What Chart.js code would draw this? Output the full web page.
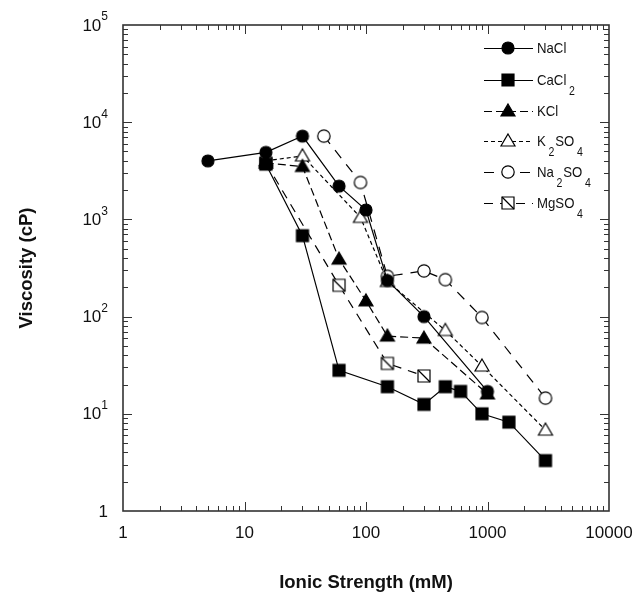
<!DOCTYPE html>
<html lang="en">
<head>
  <meta charset="UTF-8" />
  <title>Viscosity vs Ionic Strength</title>
  <script src="https://cdn.jsdelivr.net/npm/chart.js"></script>
  <style>
    html, body { margin: 0; padding: 0; background: #fff; }
    #wrap { width: 637px; height: 596px; position: relative; }
  </style>
</head>
<body>

<div id="wrap"><canvas id="viscChart"></canvas></div>

<script>
  // ionic strength (mM) vs viscosity (cP)
  const naclX   = [5, 15, 30, 60, 100, 150, 300, 1000];
  const naclY   = [4000, 4900, 7200, 2200, 1250, 235, 100, 17];
  const cacl2X  = [15, 30, 60, 150, 300, 450, 600, 900, 1500, 3000];
  const cacl2Y  = [3700, 680, 28, 19, 12.5, 19, 17, 10, 8.2, 3.3];
  const kclX    = [15, 30, 60, 100, 150, 300, 1000];
  const kclY    = [3800, 3500, 390, 145, 63, 60, 16];
  const k2so4X  = [15, 30, 90, 150, 450, 900, 3000];
  const k2so4Y  = [4000, 4500, 1050, 230, 72, 31, 6.8];
  const na2so4X = [45, 90, 150, 300, 450, 900, 3000];
  const na2so4Y = [7200, 2400, 260, 295, 240, 98, 14.5];
  const mgso4X  = [15, 60, 150, 300];
  const mgso4Y  = [3800, 210, 33, 24.5];

  const seriesNames = ["NaCl", "CaCl_2", "KCl", "K_2SO_4", "Na_2SO_4", "MgSO_4"];

  const xTicks = [1, 10, 100, 1000, 10000];
  const xTickLabels = ["1", "10", "100", "1000", "10000"];
  const yTicks = [1, 10, 100, 1000, 10000, 100000];
  const yTickBase = ["1", "10", "10", "10", "10", "10"];
  const yTickExp = ["", "1", "2", "3", "4", "5"];

  const FONT = '"Liberation Sans", Arial, sans-serif';

  function pts(xs, ys) {
    return xs.map((x, i) => ({ x: x, y: ys[i] }));
  }

  // little canvases used as point styles (and reused in the legend)
  function makeMarker(shape, filled) {
    const c = document.createElement("canvas");
    c.width = 18; c.height = 18;
    const g = c.getContext("2d");
    g.fillStyle = filled ? "#000" : "#fff";
    g.strokeStyle = "#000";
    g.lineWidth = 1.2;
    g.beginPath();
    if (shape === "circle") {
      g.arc(9, 9, filled ? 6 : 6.2, 0, Math.PI * 2);
    } else if (shape === "square") {
      g.rect(3, 3, 12, 12);
    } else if (shape === "triangle") {
      g.moveTo(9, 2); g.lineTo(16, 14); g.lineTo(2, 14); g.closePath();
    }
    g.fill();
    g.stroke();
    if (shape === "square" && !filled) {
      g.beginPath(); g.moveTo(3, 3); g.lineTo(15, 15); g.stroke();
    }
    return c;
  }

  const markers = [
    makeMarker("circle", true),
    makeMarker("square", true),
    makeMarker("triangle", true),
    makeMarker("triangle", false),
    makeMarker("circle", false),
    makeMarker("square", false)
  ];
  const dashes = [[], [], [8, 4], [4, 3], [10, 8], [9, 7]];
  const seriesData = [
    pts(naclX, naclY), pts(cacl2X, cacl2Y), pts(kclX, kclY),
    pts(k2so4X, k2so4Y), pts(na2so4X, na2so4Y), pts(mgso4X, mgso4Y)
  ];

  // draw "CaCl_2" style text with subscripts
  function drawSubText(ctx, str, x, y, size, squeeze) {
    const parts = str.split(/_(\d)/);
    ctx.save();
    ctx.translate(x, y);
    ctx.scale(squeeze, 1);
    let cx = 0;
    parts.forEach((p, i) => {
      if (!p) return;
      if (i % 2 === 1) {
        ctx.font = (size - 3) + "px " + FONT;
        cx += 3;
        ctx.fillText(p, cx, 11);
        cx += ctx.measureText(p).width + 1;
      } else {
        ctx.font = size + "px " + FONT;
        ctx.fillText(p, cx, 0);
        cx += ctx.measureText(p).width;
      }
    });
    ctx.restore();
  }

  const framePlugin = {
    id: "frame",
    afterDraw(chart) {
      const { ctx, chartArea: a, scales: { x, y } } = chart;
      ctx.save();
      ctx.strokeStyle = "#333";
      ctx.fillStyle = "#111";

      // minor / major ticks pointing inward on all four sides
      ctx.lineWidth = 1;
      ctx.beginPath();
      for (let d = 0; d < 5; d++) {
        for (let m = 1; m <= 9; m++) {
          const v = Math.pow(10, d) * m;
          const len = m === 1 ? 9 : 5;
          if (v > 1 && v < 10000) {
            const px = Math.round(x.getPixelForValue(v)) + 0.5;
            ctx.moveTo(px, a.bottom); ctx.lineTo(px, a.bottom - len);
            ctx.moveTo(px, a.top); ctx.lineTo(px, a.top + len);
          }
          if (v > 1 && v < 100000) {
            const py = Math.round(y.getPixelForValue(v)) + 0.5;
            ctx.moveTo(a.left, py); ctx.lineTo(a.left + len, py);
            ctx.moveTo(a.right, py); ctx.lineTo(a.right - len, py);
          }
        }
      }
      ctx.stroke();

      ctx.lineWidth = 1.6;
      ctx.strokeRect(a.left, a.top, a.right - a.left, a.bottom - a.top);

      // x tick labels
      ctx.font = "17px " + FONT;
      ctx.textAlign = "center";
      ctx.textBaseline = "middle";
      xTicks.forEach((v, i) => {
        ctx.fillText(xTickLabels[i], x.getPixelForValue(v), a.bottom + 22);
      });

      // y tick labels with superscript exponent
      ctx.textAlign = "right";
      yTicks.forEach((v, i) => {
        const py = y.getPixelForValue(v);
        const right = a.left - 15;
        if (yTickExp[i]) {
          ctx.font = "12px " + FONT;
          const ew = ctx.measureText(yTickExp[i]).width;
          ctx.fillText(yTickExp[i], right, py - 8);
          ctx.font = "17px " + FONT;
          ctx.fillText(yTickBase[i], right - ew, py + 1);
        } else {
          ctx.font = "17px " + FONT;
          ctx.fillText(yTickBase[i], right, py + 1);
        }
      });

      // axis titles
      ctx.font = "bold 18.5px " + FONT;
      ctx.textAlign = "center";
      ctx.fillText("Ionic Strength (mM)", (a.left + a.right) / 2, 583);
      ctx.save();
      ctx.translate(27, (a.top + a.bottom) / 2);
      ctx.rotate(-Math.PI / 2);
      ctx.fillText("Viscosity (cP)", 0, 0);
      ctx.restore();

      // legend
      const rowY = [48, 80, 111, 141, 172, 203];
      ctx.textAlign = "left";
      seriesNames.forEach((name, i) => {
        const ly = rowY[i] + 0.5;
        ctx.strokeStyle = "#000";
        ctx.lineWidth = 1.2;
        ctx.setLineDash(dashes[i]);
        ctx.beginPath();
        ctx.moveTo(484, ly); ctx.lineTo(533, ly);
        ctx.stroke();
        ctx.setLineDash([]);
        ctx.drawImage(markers[i], 499, rowY[i] - 9);
        ctx.fillStyle = "#111";
        drawSubText(ctx, name, 537, rowY[i] + 1, 15, 0.88);
      });
      ctx.restore();
    }
  };

  new Chart(document.getElementById("viscChart"), {
    type: "line",
    data: {
      datasets: seriesNames.map((name, i) => ({
        label: name,
        data: seriesData[i],
        borderColor: "#000",
        backgroundColor: "#000",
        borderWidth: 1.2,
        borderDash: dashes[i],
        pointStyle: markers[i],
        pointRadius: 6,
        tension: 0,
        fill: false
      }))
    },
    options: {
      responsive: true,
      maintainAspectRatio: false,
      animation: false,
      layout: { padding: { left: 123, top: 25, right: 28, bottom: 85 } },
      plugins: { legend: { display: false }, tooltip: { enabled: false } },
      scales: {
        x: { type: "logarithmic", min: 1, max: 10000, display: false },
        y: { type: "logarithmic", min: 1, max: 100000, display: false }
      }
    },
    plugins: [framePlugin]
  });
</script>

</body>
</html>
